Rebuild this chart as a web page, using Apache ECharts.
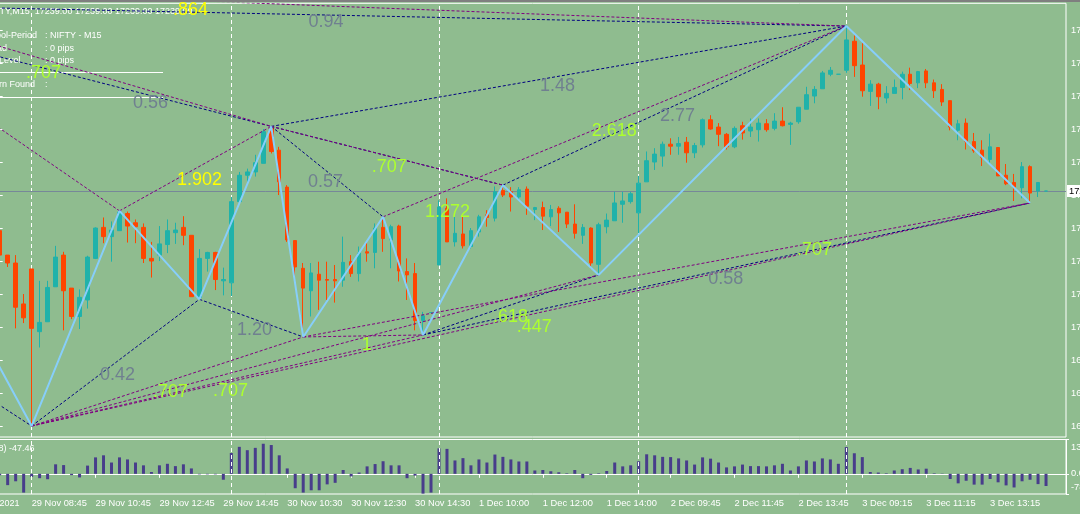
<!DOCTYPE html>
<html><head><meta charset="utf-8">
<script src="https://cdn.jsdelivr.net/npm/echarts@6/dist/echarts.min.js"></script>
<style>html,body{margin:0;padding:0;background:#8FBC8F;overflow:hidden}#c{width:1080px;height:514px}</style>
</head><body><div id="c"></div>
<script>
// ---------- data ----------
const sessions = [['26 Nov','14:15',4],['29 Nov','08:45',25],['30 Nov','08:45',26],['1 Dec','08:45',25],['2 Dec','08:45',26],['3 Dec','08:45',26]];
const futureSlots = 2;

const open = [17146,17109,17097,17035,17088,16993,17008,17061,17109,17059,
17016,17041,17104,17151,17137,17146,17172,17158,17151,17104,
17109,17125,17143,17151,17139,17045,17104,17113,17070,17067,
17190,17230,17235,17248,17302,17268,17212,17131,17089,17055,
17080,17072,17072,17071,17099,17081,17114,17113,17151,17132,
17153,17084,17081,17010,17022,17094,17180,17129,17141,17122,
17144,17170,17165,17207,17205,17197,17209,17178,17181,17167,
17180,17174,17156,17139,17150,17095,17152,17161,17186,17190,
17173,17220,17250,17259,17277,17274,17280,17264,17276,17314,
17303,17292,17273,17305,17297,17299,17308,17301,17312,17307,
17311,17330,17350,17361,17383,17383,17389,17433,17397,17357,
17368,17347,17354,17363,17383,17370,17388,17370,17360,17343,
17298,17309,17281,17268,17254,17272,17230,17219,17211,17243,
17206,17206];
const high = [17149,17109,17109,17050,17088,17070,17070,17123,17114,17059,
17057,17108,17151,17166,17160,17176,17175,17163,17157,17129,
17153,17163,17158,17168,17139,17118,17114,17114,17090,17197,
17235,17240,17261,17300,17304,17273,17215,17131,17097,17097,
17099,17099,17094,17137,17109,17122,17129,17157,17167,17155,
17155,17104,17097,17023,17022,17192,17195,17172,17170,17150,
17170,17177,17213,17215,17212,17212,17213,17182,17190,17185,
17183,17174,17186,17156,17151,17158,17172,17205,17205,17205,
17229,17266,17271,17281,17286,17288,17288,17279,17316,17321,
17309,17294,17304,17311,17316,17316,17315,17324,17333,17311,
17333,17364,17365,17388,17394,17383,17456,17442,17430,17374,
17370,17365,17375,17387,17393,17388,17391,17375,17368,17343,
17314,17316,17294,17283,17293,17272,17247,17232,17250,17245,
17219,17206];
const low = [17105,17091,16998,17006,16850,16969,17008,17061,16995,17012,
16997,17028,17103,17127,17099,17146,17128,17127,17097,17075,
17100,17112,17126,17124,17046,17042,17084,17056,17048,17047,
17187,17218,17228,17248,17263,17200,17129,17076,16985,17016,
17026,17041,17037,17061,17076,17069,17099,17089,17114,17089,
17069,17041,16995,16988,17022,17094,17129,17122,17119,17119,
17137,17152,17160,17197,17175,17192,17170,17162,17147,17153,
17144,17150,17134,17126,17089,17079,17142,17161,17158,17187,
17142,17220,17238,17243,17261,17261,17249,17256,17272,17299,
17274,17269,17271,17284,17288,17281,17296,17298,17304,17276,
17308,17330,17339,17361,17380,17383,17385,17379,17349,17335,
17330,17339,17354,17345,17359,17362,17362,17347,17335,17298,
17283,17269,17264,17244,17248,17229,17215,17191,17195,17188,
17197,17206];
const close = [17109,17097,17030,17014,16998,17007,17060,17106,17055,17016,
17045,17106,17150,17137,17147,17174,17153,17152,17104,17100,
17126,17146,17147,17139,17046,17104,17113,17072,17072,17190,
17230,17235,17249,17296,17266,17220,17132,17091,17059,17082,
17071,17071,17070,17098,17081,17112,17112,17150,17134,17152,
17085,17079,17010,17017,17022,17182,17129,17142,17123,17146,
17167,17166,17205,17200,17197,17208,17183,17181,17168,17178,
17173,17156,17142,17151,17097,17155,17162,17188,17191,17202,
17218,17252,17262,17277,17274,17278,17264,17275,17314,17300,
17292,17273,17301,17294,17303,17309,17299,17312,17305,17309,
17333,17352,17360,17385,17389,17383,17435,17396,17358,17368,
17349,17354,17363,17383,17369,17387,17370,17358,17341,17303,
17308,17281,17267,17257,17273,17229,17217,17212,17243,17203,
17219,17206];
const cci = [-6,-44,-29,-73,-12,-17,-21,37,34,-5,
-14,32,64,72,44,64,56,44,33,7,
33,39,30,37,21,-2,-2,-2,-23,81,
105,92,101,117,112,72,21,-56,-73,-64,
-64,-41,-35,15,-10,5,29,38,49,33,
33,-17,-7,-77,-73,99,97,52,61,33,
56,44,75,66,56,48,48,13,15,10,
6,2,15,-17,-4,2,11,44,29,33,
49,76,72,66,65,60,52,36,64,59,
44,25,29,36,30,30,29,33,39,13,
29,52,48,60,56,39,104,80,65,7,
5,2,13,18,23,17,20,2,1,-20,
-37,-27,-42,-42,-20,-33,-45,-53,-29,-23,
-40,-47.46];

// zigzag pivots [bar index, price]; first one lies before the visible window
const zigzagNames = ['O1','Z1','Z2','Z3','Z4','Z5','Z6','Z7','Z8','Z9','Z10','Z11'];
const zigzag = [[-26,17518],[4,16850],[15,17176],[25,17042],[34,17304],[38,16985],[48,17167],[53,16988],[63,17215],[75,17079],[106,17456],[129,17188]];
const extraAnchors = {O2:[-26,17490], O3:[-16,17008]};
const navyLines = [['O2','Z10'],['O2','Z4'],['O3','Z1'],['Z1','Z3'],['Z3','Z5'],['Z4','Z6'],['Z4','Z8'],['Z4','Z10'],['Z8','Z10'],['Z7','Z9'],['Z7','Z11']];
const purpleLines = [['O1','Z10'],['O1','Z4'],['O1','Z2'],['Z2','Z4'],['Z1','Z5'],['Z1','Z7'],['Z1','Z11'],['Z5','Z7'],['Z4','Z8'],['Z6','Z10'],['Z1','Z9'],['Z5','Z11']];

const grayLabels = [[38.66,17462,'0.94'],[16.69,17339,'0.56'],[38.6,17219,'0.57'],[67.65,17365,'1.48'],[82.67,17319,'2.77'],[29.71,16996,'1.20'],[12.56,16927,'0.42'],[88.72,17073,'0.58']];
const greenLabels = [[3.29,17385,'.707'],[46.58,17243,'.707'],[53.25,17175,'1.272'],[74.12,17297,'2.618'],[26.71,16903,'.707'],[19.19,16902,'.707'],[45.32,16973,'1'],[61.76,17015,'.618'],[64.73,17000,'.447'],[99.83,17117,'.707']];
const yellowLabels = [[21.7,17481,'.864'],[22.2,17223,'1.902']];

const yTicks = [16850,16900,16950,17000,17050,17100,17150,17200,17250,17300,17350,17400,17450];
const Y_MIN = 16833.4, Y_MAX = 17490.5;
const SUB_MIN = -78.47, SUB_MAX = 133.52;
const headerText = 'NIFTY,M15  17239.00 17239.00 17239.00 17239.00';

// ---------- styles ----------
const BULL='#20B2AA', BEAR='#FF4500', ZIG='#87CEFA', NAVY='#000080', PURPLE='#800080';
const GRAYL='#708090', GREENL='#ADFF2F', YELL='#FFFF00', HIST='#483D8B', WHITE='#FFFFFF';
const FONT = '"Liberation Sans", Arial, sans-serif';

// ---------- build ----------
const categories = [];
sessions.forEach(([d,t,n])=>{
  let [h,m]=t.split(':').map(Number);
  for(let k=0;k<n;k++){
    categories.push(d+' '+String(h).padStart(2,'0')+':'+String(m).padStart(2,'0'));
    m+=15; if(m>=60){m-=60;h++;}
  }
});
const nBars = categories.length;
for(let k=0;k<futureSlots;k++) categories.push('');
const dayOf = s => s.split(' ').slice(0,2).join(' ');
const separators = [];
for(let i=1;i<nBars;i++) if(dayOf(categories[i])!==dayOf(categories[i-1])) separators.push(i);
const labelStart = separators[0];
const showLabel = i => i>=labelStart && i<nBars && (i-labelStart)%8===0;

const candleData = open.map((o,i)=>{
  const it = {value:[o, close[i], low[i], high[i]]};
  if (o===close[i]) it.itemStyle={color:BULL,color0:BULL,borderColor:BULL,borderColor0:BULL};
  return it;
});
const pts = {};
zigzagNames.forEach((n,i)=>pts[n]=zigzag[i]);
Object.assign(pts, extraAnchors);

const lineSeries = [];
[[navyLines,NAVY],[purpleLines,PURPLE]].forEach(([list,col])=>{
  list.forEach(([a,b])=>lineSeries.push({
    type:'line', xAxisIndex:2, yAxisIndex:0, data:[pts[a],pts[b]], symbol:'none',
    silent:true, animation:false, z:3, clip:true,
    lineStyle:{color:col,width:1,type:[3,2]}
  }));
});

function textSeries(list, color){
  return {type:'custom', xAxisIndex:2, yAxisIndex:0, z:10, silent:true, animation:false,
    data:list.map(l=>[l[0],l[1]]),
    renderItem:(params, api)=>{
      const p = api.coord([api.value(0), api.value(1)]);
      return {type:'text', x:p[0], y:p[1], style:{text:list[params.dataIndex][2], fill:color,
        font:'18px '+FONT, align:'left', verticalAlign:'middle'}};
    }};
}

const sepLines = separators.map(i=>({xAxis:i}));
const sepStyle = {color:WHITE,width:1,type:[4,3]};

const smallText = (txt,x,y,align)=>({type:'text', x:x, y:y, z:1, silent:true,
  style:{text:txt, fill:WHITE, font:'9px '+FONT, align:align||'left', verticalAlign:'middle'}});

const option = {
  backgroundColor:'#8FBC8F',
  animation:false,
  grid:[
    {left:-4.3, right:14, top:3.3, height:433.7, show:true, borderColor:WHITE, borderWidth:1, backgroundColor:'transparent', containLabel:false, outerBoundsMode:'none'},
    {left:-4.3, right:14, top:439.5, height:54.5, show:true, borderColor:WHITE, borderWidth:1, backgroundColor:'transparent', containLabel:false, outerBoundsMode:'none'}
  ],
  xAxis:[
    {type:'category', gridIndex:0, data:categories, boundaryGap:true, axisLine:{show:false}, axisTick:{show:false}, axisLabel:{show:false}, splitLine:{show:false}},
    {type:'category', gridIndex:1, data:categories, boundaryGap:true,
      axisLine:{show:true,lineStyle:{color:WHITE}},
      axisTick:{show:true, alignWithLabel:true, length:4, interval:(i)=>showLabel(i), lineStyle:{color:WHITE}},
      axisLabel:{show:true, interval:(i)=>showLabel(i), align:'left', margin:5, color:WHITE, fontSize:9.3, fontFamily:FONT},
      splitLine:{show:false}},
    {type:'value', gridIndex:0, min:-0.5, max:nBars+futureSlots-0.5, show:false}
  ],
  yAxis:[
    {type:'value', gridIndex:0, position:'right', min:Y_MIN, max:Y_MAX, splitLine:{show:false},
      axisLine:{show:true,lineStyle:{color:WHITE}},
      axisTick:{show:true,length:3,lineStyle:{color:WHITE},customValues:yTicks},
      axisLabel:{show:true,customValues:yTicks,color:WHITE,fontSize:9.3,fontFamily:FONT,margin:5,formatter:v=>v.toFixed(2)}},
    {type:'value', gridIndex:1, position:'right', min:SUB_MIN, max:SUB_MAX, splitLine:{show:false},
      axisLine:{show:true,lineStyle:{color:WHITE}},
      axisTick:{show:true,length:3,lineStyle:{color:WHITE},customValues:[SUB_MAX,0,SUB_MIN]},
      axisLabel:{show:true,customValues:[SUB_MAX,0,SUB_MIN],color:WHITE,fontSize:9.3,fontFamily:FONT,margin:5,
        formatter:v=> v===SUB_MAX ? '{t|'+v.toFixed(2)+'}' : v===SUB_MIN ? '{b|'+v.toFixed(2)+'}' : v.toFixed(2),
        rich:{t:{padding:[15,0,0,0]}, b:{padding:[0,0,13,0]}}}}
  ],
  series:[
    {type:'candlestick', xAxisIndex:0, yAxisIndex:0, data:candleData, barWidth:4, z:2,
      itemStyle:{color:BULL,color0:BEAR,borderColor:BULL,borderColor0:BEAR,borderWidth:1},
      markLine:{silent:true, symbol:['none','none'], animation:false, z:1,
        data:[...sepLines.map(d=>({...d, lineStyle:sepStyle, label:{show:false}})),
          {yAxis:close[nBars-1], lineStyle:{color:'#778899',width:1,type:'solid'},
           label:{show:true,position:'end',distance:1,formatter:close[nBars-1].toFixed(2),
             backgroundColor:WHITE,color:'#000',padding:[2,2,1,2],fontSize:9.3,fontFamily:FONT}}]}},
    {type:'bar', xAxisIndex:1, yAxisIndex:1, data:cci, barWidth:3, itemStyle:{color:HIST}, z:2,
      markLine:{silent:true, symbol:['none','none'], animation:false, label:{show:false}, lineStyle:sepStyle, data:sepLines}},
    ...lineSeries,
    {type:'line', xAxisIndex:2, yAxisIndex:0, data:zigzag, symbol:'none', silent:true, z:4, clip:true,
      lineStyle:{color:ZIG,width:2}},
    textSeries(grayLabels, GRAYL),
    textSeries(greenLabels, GREENL),
    textSeries(yellowLabels, YELL)
  ],
  graphic:[
    {type:'rect', silent:true, z:0, shape:{x:0,y:0,width:1080,height:2}, style:{fill:'#7f7f7f'}},
    smallText(headerText,-15,12),
    smallText('Symbol-Period',-22,36), smallText(': NIFTY - M15',45,36),
    smallText('Spread',-22,49), smallText(': 0 pips',45,49),
    smallText('Stop Level',-22,61), smallText(': 0 pips',45,61),
    {type:'line', silent:true, z:1, shape:{x1:0,y1:72.5,x2:163,y2:72.5}, style:{stroke:WHITE,lineWidth:1}},
    smallText('Pattern Found',-22,85), smallText(':',45,85),
    {type:'line', silent:true, z:1, shape:{x1:0,y1:97.5,x2:163,y2:97.5}, style:{stroke:WHITE,lineWidth:1}},
    smallText('CCI(8) -47.46',34.5,449,'right'),
    smallText('26 Nov 2021',19.6,504,'right')
  ]
};
const chart = echarts.init(document.getElementById('c'), null, {width:1080,height:514});
chart.setOption(option);
</script></body></html>
